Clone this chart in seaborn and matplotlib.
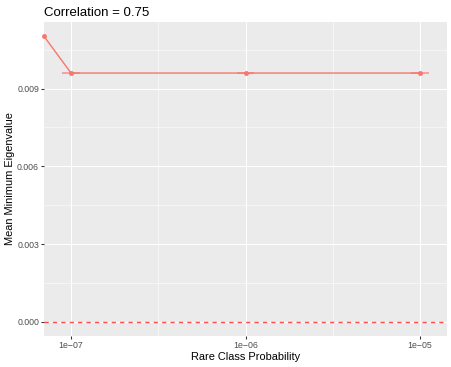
import numpy as np
import pandas as pd
import matplotlib
matplotlib.use("Agg")
import matplotlib.pyplot as plt
import seaborn as sns

# ---- data ----
rare_prob = [0.0, 1e-07, 1e-06, 1e-05]
mean_min_eig = [0.01102, 0.00960, 0.00960, 0.00960]
sd_min_eig = [0.0, 0.0, 0.0, 0.0]
x_ticks = [1e-07, 1e-06, 1e-05]
x_tick_labels = ["1e\u221207", "1e\u221206", "1e\u221205"]
y_ticks = [0.000, 0.003, 0.006, 0.009]
y_tick_labels = ["0.000", "0.003", "0.006", "0.009"]
title = "Correlation = 0.75"

line_col = "#F8766D"
cap_half = 0.05  # half width of the errorbar caps, in decades

# ---- style (ggplot-ish) ----
sns.set_theme(style="darkgrid")
plt.rcParams["font.family"] = ["Liberation Sans", "DejaVu Sans"]
plt.rcParams["axes.facecolor"] = "#EBEBEB"
plt.rcParams["grid.color"] = "white"

dpi = 72
fig = plt.figure(figsize=(451 / dpi, 367 / dpi), dpi=dpi)
ax = fig.add_axes([44 / 451, 31 / 367, 403 / 451, 314 / 367])

# x range like ggplot: finite values + caps, 5% expansion in log space
finite = [np.log10(v) for v in rare_prob if v > 0]
lo, hi = min(finite) - cap_half, max(finite) + cap_half
pad = 0.05 * (hi - lo)
xlo, xhi = 10 ** (lo - pad), 10 ** (hi + pad)
ylo_d, yhi_d = 0.0, max(mean_min_eig)
ypad = 0.05 * (yhi_d - ylo_d)

# zero on a log axis -> drawn at the panel edge
df = pd.DataFrame({"x": [v if v > 0 else xlo for v in rare_prob],
                   "y": mean_min_eig, "sd": sd_min_eig})

ax.set_xscale("log")
ax.axhline(0, color="red", lw=1.4, ls=(0, (3, 3)), alpha=0.7, zorder=2)

sns.lineplot(data=df, x="x", y="y", color=line_col, lw=1.4, ax=ax,
             zorder=3, clip_on=False)
sns.scatterplot(data=df, x="x", y="y", color=line_col, s=24, linewidth=0,
                ax=ax, zorder=4, clip_on=False)

# errorbar caps (sd is essentially zero)
for xv, yv, sv in zip(rare_prob, mean_min_eig, sd_min_eig):
    if xv <= 0:
        continue
    for yy in (yv - sv, yv + sv):
        ax.hlines(yy, xv * 10 ** -cap_half, xv * 10 ** cap_half,
                  color=line_col, lw=1.6, alpha=0.45, zorder=3)

ax.set_xlim(xlo, xhi)
ax.set_ylim(ylo_d - ypad, yhi_d + ypad)

ax.set_xticks(x_ticks)
ax.set_xticklabels(x_tick_labels)
ax.set_xticks([10 ** -6.5, 10 ** -5.5], minor=True)
ax.set_yticks(y_ticks)
ax.set_yticklabels(y_tick_labels)
ax.set_yticks([0.0015, 0.0045, 0.0075, 0.0105], minor=True)
ax.xaxis.set_minor_formatter(plt.NullFormatter())

ax.grid(which="major", color="white", lw=1.07)
ax.grid(which="minor", color="white", lw=0.53)
ax.tick_params(which="major", length=2.75, width=1.07, color="#333333",
               labelsize=8.8, labelcolor="#4D4D4D", pad=2.2,
               bottom=True, left=True)
ax.tick_params(which="minor", length=0, bottom=False, left=False)
for s in ax.spines.values():
    s.set_visible(False)

ax.set_xlabel("Rare Class Probability", fontsize=11, color="black", labelpad=2)
ax.set_ylabel("Mean Minimum Eigenvalue", fontsize=11, color="black", labelpad=2)
ax.set_title(title, fontsize=13.2, loc="left", color="black", pad=6)

fig.savefig("out.png", dpi=dpi)
